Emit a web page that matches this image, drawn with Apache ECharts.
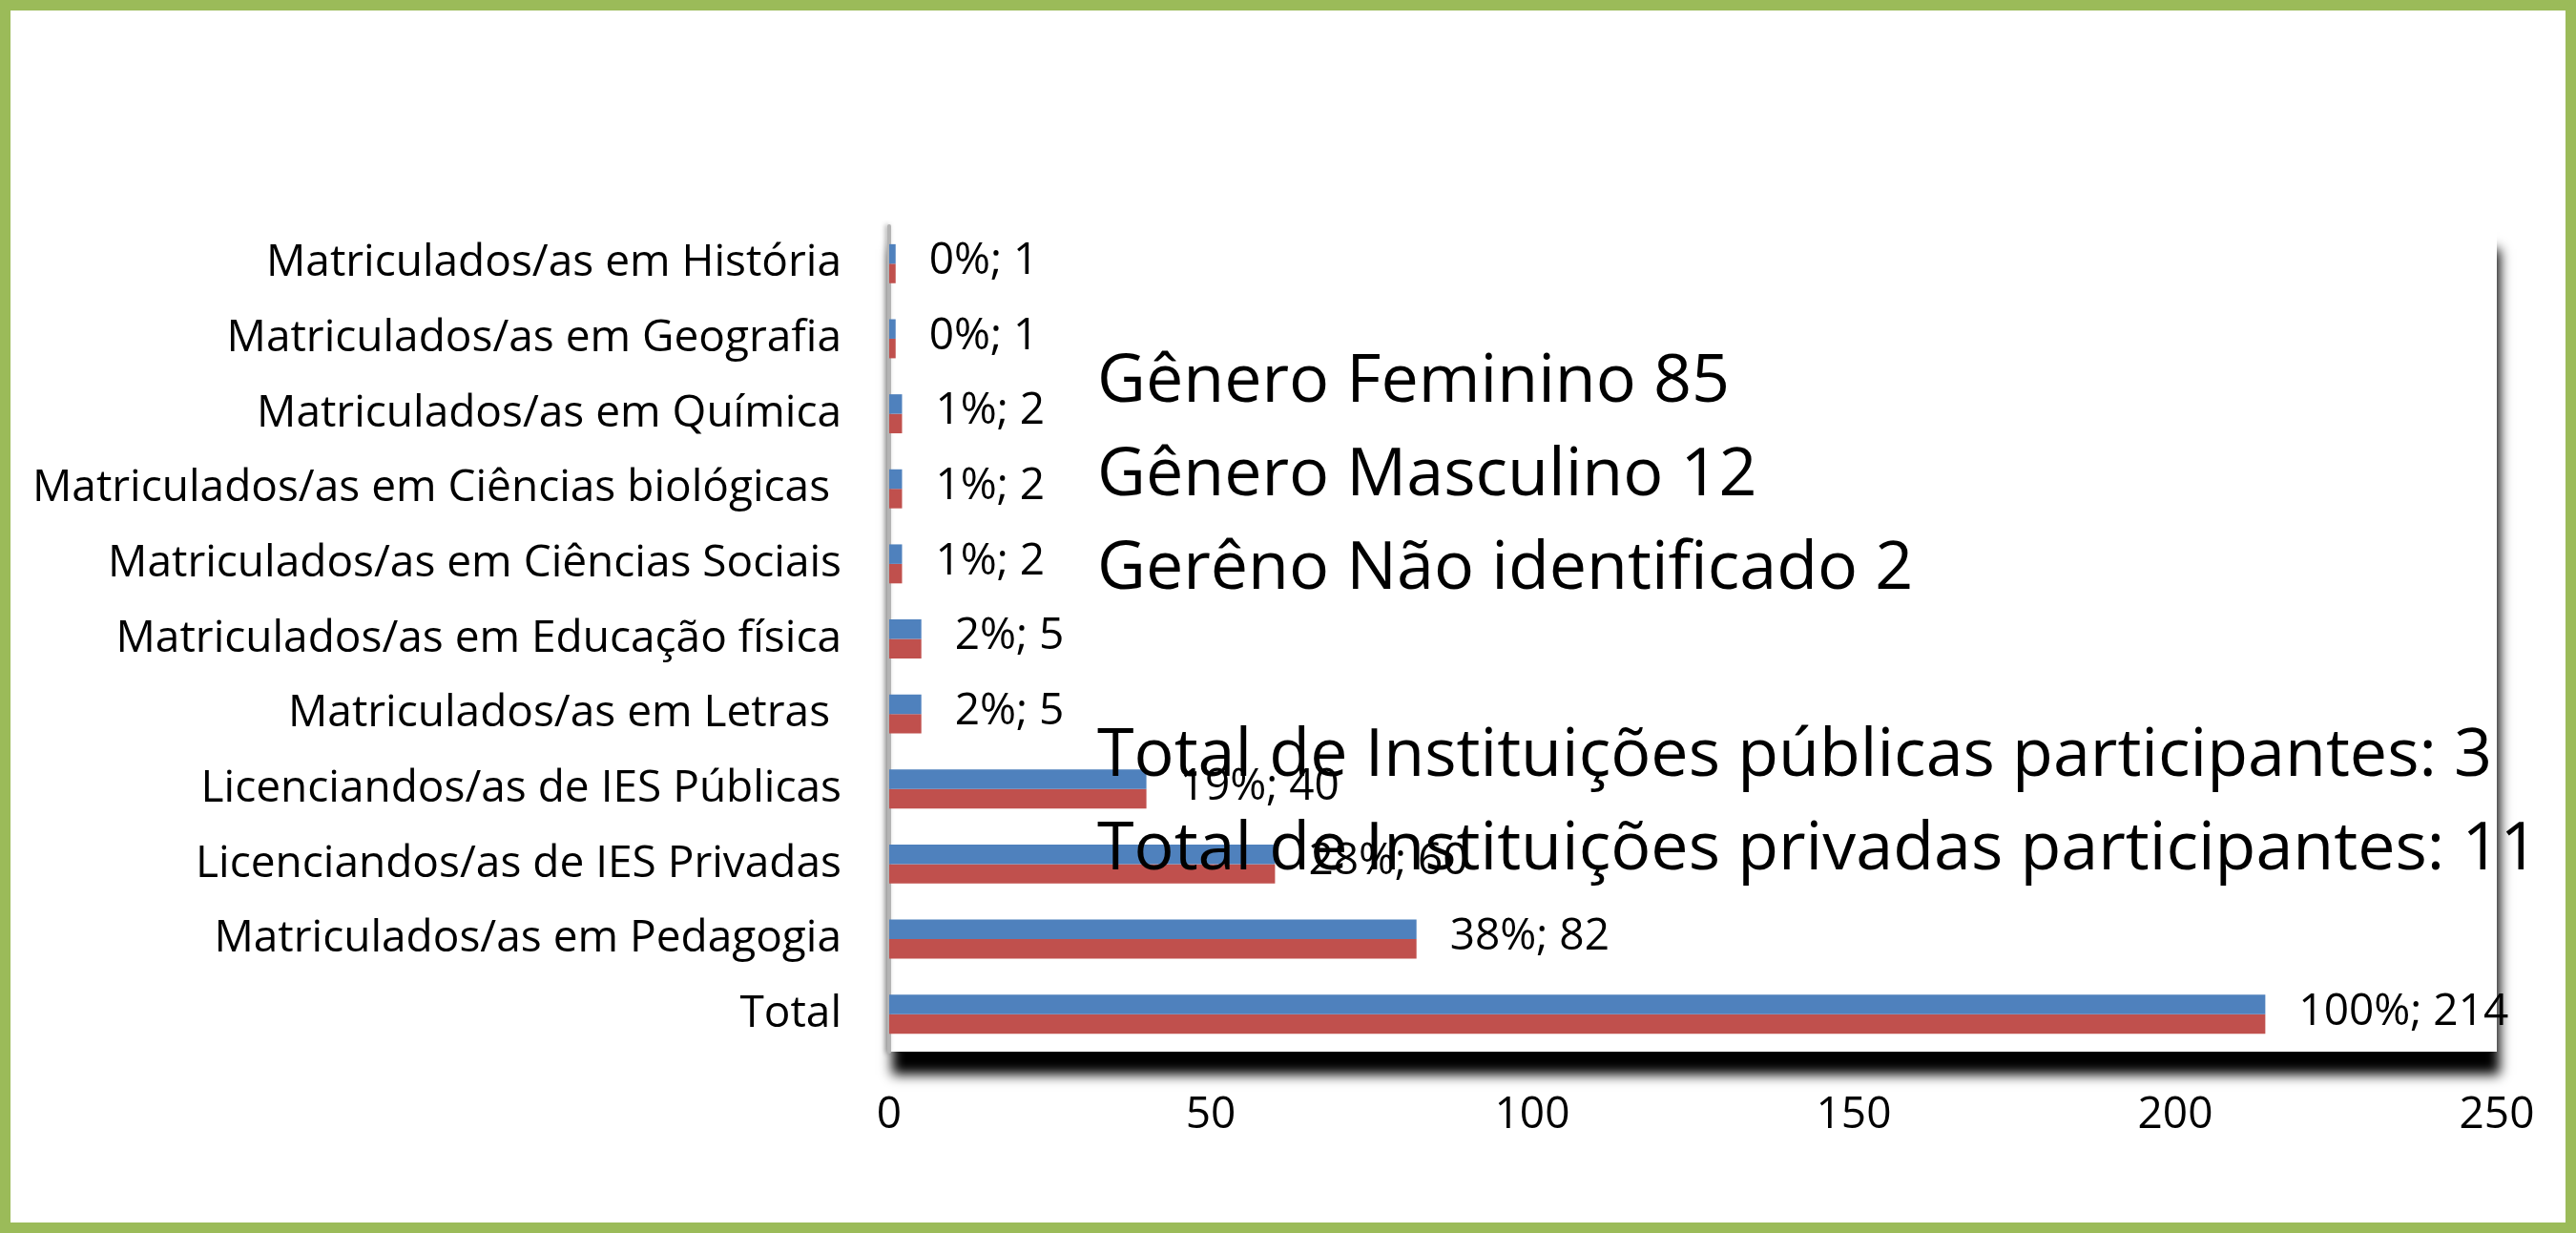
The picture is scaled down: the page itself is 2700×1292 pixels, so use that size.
<!DOCTYPE html>
<html>
<head>
<meta charset="utf-8">
<script src="https://cdn.jsdelivr.net/npm/echarts@6/dist/echarts.min.js"></script>
<style>
	html, body { margin: 0; padding: 0; background: #fff; }
	#chart { width: 2700px; height: 1292px; }
</style>
</head>
<body>
<div id="chart"></div>
<script>
// categories from bottom (Total) to top (História)
var categories = [
	'Total',
	'Matriculados/as em Pedagogia',
	'Licenciandos/as de IES Privadas',
	'Licenciandos/as de IES Públicas',
	'Matriculados/as em Letras ',
	'Matriculados/as em Educação física',
	'Matriculados/as em Ciências Sociais',
	'Matriculados/as em Ciências biológicas ',
	'Matriculados/as em Química',
	'Matriculados/as em Geografia',
	'Matriculados/as em História'
];
var blueValues = [214, 82, 60, 40, 5, 5, 2, 2, 2, 1, 1];
var redValues = [214, 82, 60, 40, 5, 5, 2, 2, 2, 1, 1];
var percentLabels = ['100%', '38%', '28%', '19%', '2%', '2%', '1%', '1%', '1%', '0%', '0%'];
var xTicks = [0, 50, 100, 150, 200, 250];
var noteLines = [
	'Gênero Feminino 85',
	'Gênero Masculino 12',
	'Gerêno Não identificado 2',
	'',
	'Total de Instituições públicas participantes: 3',
	'Total de Instituições privadas participantes: 11'
];

var font = "'Open Sans', sans-serif";
var myChart = echarts.init(document.getElementById('chart'));

var option = {
	animation: false,
	backgroundColor: '#fff',
	grid: {
		left: 932,
		right: 83,
		top: 237,
		bottom: 190,
		show: true,
		backgroundColor: '#fff',
		borderWidth: 0,
		shadowColor: 'rgba(0,0,0,1)',
		shadowBlur: 12,
		shadowOffsetX: 3,
		shadowOffsetY: 24
	},
	xAxis: {
		type: 'value',
		min: xTicks[0],
		max: xTicks[xTicks.length - 1],
		interval: xTicks[1] - xTicks[0],
		axisLine: { show: false },
		axisTick: { show: false },
		splitLine: { show: false },
		axisLabel: {
			color: '#000',
			fontFamily: font,
			fontSize: 46,
			margin: 44
		}
	},
	yAxis: {
		type: 'category',
		data: categories,
		axisTick: { show: false },
		axisLine: {
			show: true,
			lineStyle: {
				color: '#b4b4b4',
				width: 4,
				shadowColor: 'rgba(0,0,0,0.35)',
				shadowBlur: 5,
				shadowOffsetX: -2
			}
		},
		axisLabel: {
			color: '#000',
			fontFamily: font,
			fontSize: 46,
			margin: 50
		}
	},
	series: [{
		name: 'Série 1',
		type: 'bar',
		data: blueValues,
		barGap: '0%',
		barCategoryGap: '48%',
		itemStyle: { color: '#4f81bd' },
		z: 3,
		label: {
			show: true,
			position: 'right',
			distance: 35,
			offset: [0, 8],
			color: '#000',
			fontFamily: font,
			fontSize: 46,
			formatter: function (p) {
				return percentLabels[p.dataIndex] + '; ' + p.value;
			}
		}
	}, {
		name: 'Série 2',
		type: 'bar',
		data: redValues,
		barGap: '0%',
		barCategoryGap: '48%',
		itemStyle: { color: '#c0504d' }
	}],
	graphic: [{
		type: 'rect',
		silent: true,
		shape: { x: 5.5, y: 5.5, width: 2689, height: 1281 },
		style: { fill: 'none', stroke: '#9bbb59', lineWidth: 11 },
		z: 100
	}, {
		type: 'text',
		left: 1150,
		top: 352,
		z: 50,
		style: {
			text: noteLines.join('\n'),
			fill: '#000',
			font: '70px ' + font,
			lineHeight: 98
		}
	}]
};

myChart.setOption(option);
</script>
</body>
</html>
